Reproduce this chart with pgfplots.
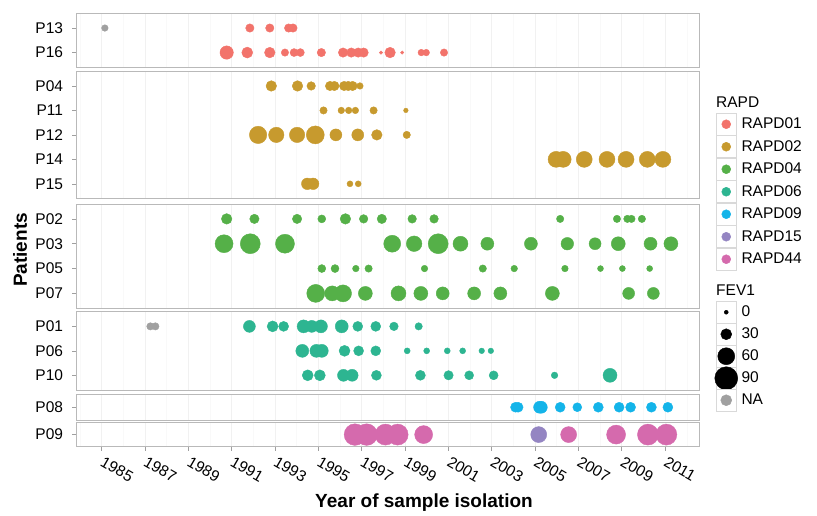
\documentclass[border=0pt]{standalone}
\usepackage{pgfplots}
\pgfplotsset{compat=1.18}
\usepackage{fontspec}
\setmainfont{Liberation Sans}

\definecolor{cR01}{HTML}{F2736B}
\definecolor{cR02}{HTML}{C79A2E}
\definecolor{cR04}{HTML}{55B048}
\definecolor{cR06}{HTML}{2DB591}
\definecolor{cR09}{HTML}{14B4E9}
\definecolor{cR15}{HTML}{9485C2}
\definecolor{cR44}{HTML}{D56AAD}
\definecolor{cNA}{HTML}{A0A0A0}

\newcommand{\tfont}{\fontsize{15.5}{18}\selectfont}
\newcommand{\bfont}{\fontsize{19}{22}\selectfont\bfseries}

\pgfplotsset{
 panel/.style={scale only axis, width=622.6pt, xmin=1983.85, xmax=2012.58,
   y dir=reverse, anchor=north west,
   axis line style={draw=gray!55, line width=0.6pt},
   xtick={1985,1987,...,2011}, minor xtick={1984,1986,...,2012},
   xmajorgrids, xminorgrids,
   major grid style={gray!11, line width=0.5pt},
   minor grid style={gray!5, line width=0.5pt},
   tick align=outside, tick pos=left, major tick length=4.5pt, minor tick length=0pt,
   every tick/.style={gray!75, line width=0.6pt},
   yticklabel style={font=\tfont, anchor=east, inner sep=0pt, xshift=-9pt},
 },
 upper/.style={xticklabels={}, xtick style={draw=none}},
 bub/.style={scatter, only marks, mark=*,
   scatter/use mapped color={draw=#1, fill=#1},
   visualization depends on={\thisrow{r}\as\rr},
   scatter/@pre marker code/.append style={/tikz/mark size=\rr}},
 legbox/.style={legend image code/.code={%
   \draw[draw=gray!30, fill=white, line width=0.5pt] (0pt,-#1) rectangle (20pt,#1);
   \begin{pgfinterruptboundingbox}
   \draw[mark repeat=1,mark phase=1,##1] plot coordinates {(10pt,0pt)};
   \end{pgfinterruptboundingbox}}},
 legax/.style={hide axis, scale only axis, width=1pt, height=1pt,
   xmin=0, xmax=1, ymin=0, ymax=1, anchor=north west,
   legend cell align=left,
   legend style={at={(0,1)}, anchor=north west, draw=none, fill=none,
     inner sep=0pt, outer sep=0pt, row sep=0pt, font=\tfont,
     nodes={inner sep=0pt},
     /tikz/every odd column/.style={column sep=5pt}}},
}

\begin{document}
\begin{tikzpicture}
\useasboundingbox (0,0) rectangle (817pt,516pt);

% Panel 1: P13, P16
\begin{axis}[panel, upper, at={(76.7pt,502.7pt)}, height=54pt,
  ymin=-0.6, ymax=1.6, ytick={0,1}, yticklabels={P13,P16}]
\addplot[bub=cNA] table {
x y r
1985.15 0 3.3
};
\addplot[bub=cR01] table {
x y r
1991.84 0 4.2
1992.76 0 4.2
1993.63 0 4.2
1993.83 0 4.2
1990.77 1 6.7
1991.72 1 5.5
1992.76 1 5.3
1993.46 1 3.7
1993.88 1 4
1994.17 1 4
1995.14 1 4.2
1996.14 1 4.7
1996.52 1 4.7
1996.84 1 4.7
1997.09 1 4.7
1997.89 1 1.7
1998.31 1 5.3
1998.87 1 1.7
1999.75 1 3.3
1999.98 1 3.3
2000.80 1 3.7
};
\end{axis}

% Panel 2: P04, P11, P12, P14, P15
\begin{axis}[panel, upper, at={(76.7pt,444.7pt)}, height=127.2pt,
  ymin=-0.6, ymax=4.6, ytick={0,1,2,3,4}, yticklabels={P04,P11,P12,P14,P15}]
\addplot[bub=cR02] table {
x y r
1992.83 0 5.3
1994.04 0 5.3
1994.67 0 4.3
1995.54 0 4.7
1995.74 0 4.7
1996.19 0 4.7
1996.38 0 4.7
1996.58 0 4.7
1996.92 0 3.3
1995.24 1 3.7
1996.06 1 3.3
1996.40 1 3.3
1996.71 1 3.3
1997.55 1 3.7
1999.04 1 2.3
1992.22 2 8.7
1993.06 2 7.7
1994.02 2 7.7
1994.86 2 9
1995.81 2 6
1996.82 2 6
1997.70 2 5.3
1999.08 2 3.7
2005.97 3 8
2006.30 3 8
2007.27 3 8
2008.32 3 8
2009.20 3 8
2010.18 3 8
2010.90 3 8
1994.49 4 5.8
1994.76 4 5.8
1996.46 4 3
1996.84 4 3
};
\end{axis}

% Panel 3: P02, P03, P05, P07
\begin{axis}[panel, upper, at={(76.7pt,312pt)}, height=104.3pt,
  ymin=-0.6, ymax=3.6, ytick={0,1,2,3}, yticklabels={P02,P03,P05,P07}]
\addplot[bub=cR04] table {
x y r
1990.77 0 5.3
1992.05 0 4.7
1994.02 0 4.7
1995.16 0 4
1996.25 0 5.3
1997.09 0 4.3
1997.93 0 4.7
1999.33 0 4.3
2000.34 0 4.3
2006.16 0 3.7
2008.78 0 3.7
2009.26 0 3.7
2009.45 0 3.7
2009.93 0 3.7
1990.65 1 9
1991.86 1 10
1993.46 1 9.5
1998.41 1 8.5
1999.42 1 7.8
2000.53 1 10
2001.56 1 7.5
2002.80 1 6.5
2004.81 1 6.5
2006.49 1 6.3
2007.77 1 6
2008.84 1 7
2010.33 1 6.5
2011.27 1 7
1995.16 2 4
1995.77 2 4
1996.73 2 3.3
1997.32 2 3.7
1999.90 2 3.3
2002.59 2 3.7
2004.04 2 3.3
2006.38 2 3.3
2008.02 2 3
2009.03 2 3
2010.29 2 3
1994.88 3 9
1995.64 3 7.5
1996.14 3 8.5
1997.17 3 7
1998.70 3 7.5
1999.73 3 7
2000.74 3 6.5
2002.19 3 6.5
2003.40 3 6.5
2005.80 3 7
2009.32 3 6
2010.46 3 6
};
\end{axis}

% Panel 4: P01, P06, P10
\begin{axis}[panel, upper, at={(76.7pt,204.3pt)}, height=78.3pt,
  ymin=-0.6, ymax=2.6, ytick={0,1,2}, yticklabels={P01,P06,P10}]
\addplot[bub=cNA] table {
x y r
1987.25 0 3.7
1987.48 0 3.7
};
\addplot[bub=cR06] table {
x y r
1991.82 0 6
1992.89 0 5.5
1993.40 0 5
1994.32 0 6.5
1994.70 0 6
1995.12 0 6.5
1996.08 0 6.5
1996.82 0 5
1997.65 0 5
1998.49 0 4.3
1999.63 0 3.7
1994.26 1 6.5
1994.91 1 6.5
1995.16 1 6.5
1996.21 1 5.5
1996.86 1 5
1997.65 1 5
1999.10 1 3
2000.00 1 3
2000.95 1 3
2001.66 1 3
2002.54 1 2.8
2002.96 1 2.8
1994.51 2 5.5
1995.07 2 5.5
1996.16 2 6
1996.56 2 6
1997.68 2 5
1999.71 2 5
2001.01 2 4.7
2001.96 2 4.5
2003.09 2 4.5
2005.90 2 3.3
2008.46 2 7
};
\end{axis}

% Panel 5: P08
\begin{axis}[panel, upper, at={(76.7pt,121.5pt)}, height=25.5pt,
  ymin=-0.6, ymax=0.6, ytick={0}, yticklabels={P08}]
\addplot[bub=cR09] table {
x y r
2004.10 0 5
2004.22 0 5
2005.21 0 6
2005.29 0 6
2006.16 0 5
2006.95 0 4.5
2007.92 0 5
2008.88 0 5
2009.41 0 5
2010.37 0 5
2011.13 0 5
};
\end{axis}

% Panel 6: P09
\begin{axis}[panel, at={(76.7pt,93.3pt)}, height=23.8pt,
  ymin=-0.6, ymax=0.6, ytick={0}, yticklabels={P09},
  xticklabels={1985,1987,1989,1991,1993,1995,1997,1999,2001,2003,2005,2007,2009,2011},
  xticklabel style={font=\tfont, rotate=-30, anchor=north west, inner sep=0pt, xshift=5pt, yshift=-2.5pt}]
\addplot[bub=cR44] table {
x y r
1996.69 0 10.8
1997.23 0 10.8
1998.10 0 10.5
1998.66 0 10.5
1999.86 0 9
2006.55 0 8
2008.74 0 9.5
2010.21 0 10.5
2011.06 0 10.5
};
\addplot[bub=cR15] table {
x y r
2005.17 0 8
};
\end{axis}

% Axis titles
\node[font=\bfont] at (424pt,13pt) {Year of sample isolation};
\node[font=\bfont, rotate=90] at (20pt,266pt) {Patients};

% Legend: RAPD
\node[font=\tfont, anchor=west, inner sep=0pt] at (716pt,414pt) {RAPD};
\begin{axis}[legax, legbox=11pt, at={(716pt,403pt)}]
\addlegendimage{mark=*, mark size=4.5pt, color=cR01}\addlegendentry{RAPD01}
\addlegendimage{mark=*, mark size=4.5pt, color=cR02}\addlegendentry{RAPD02}
\addlegendimage{mark=*, mark size=4.5pt, color=cR04}\addlegendentry{RAPD04}
\addlegendimage{mark=*, mark size=4.5pt, color=cR06}\addlegendentry{RAPD06}
\addlegendimage{mark=*, mark size=4.5pt, color=cR09}\addlegendentry{RAPD09}
\addlegendimage{mark=*, mark size=4.5pt, color=cR15}\addlegendentry{RAPD15}
\addlegendimage{mark=*, mark size=4.5pt, color=cR44}\addlegendentry{RAPD44}
\end{axis}

% Legend: FEV1
\node[font=\tfont, anchor=west, inner sep=0pt] at (716pt,226pt) {FEV1};
\begin{axis}[legax, legbox=10.75pt, at={(716pt,214.75pt)}]
\addlegendimage{mark=*, mark size=2pt, color=black}\addlegendentry{0}
\addlegendimage{mark=*, mark size=5.5pt, color=black}\addlegendentry{30}
\addlegendimage{mark=*, mark size=8.5pt, color=black}\addlegendentry{60}
\addlegendimage{mark=*, mark size=11.5pt, color=black}\addlegendentry{90}
\addlegendimage{mark=*, mark size=5.5pt, color=cNA}\addlegendentry{NA}
\end{axis}
\end{tikzpicture}
\end{document}
